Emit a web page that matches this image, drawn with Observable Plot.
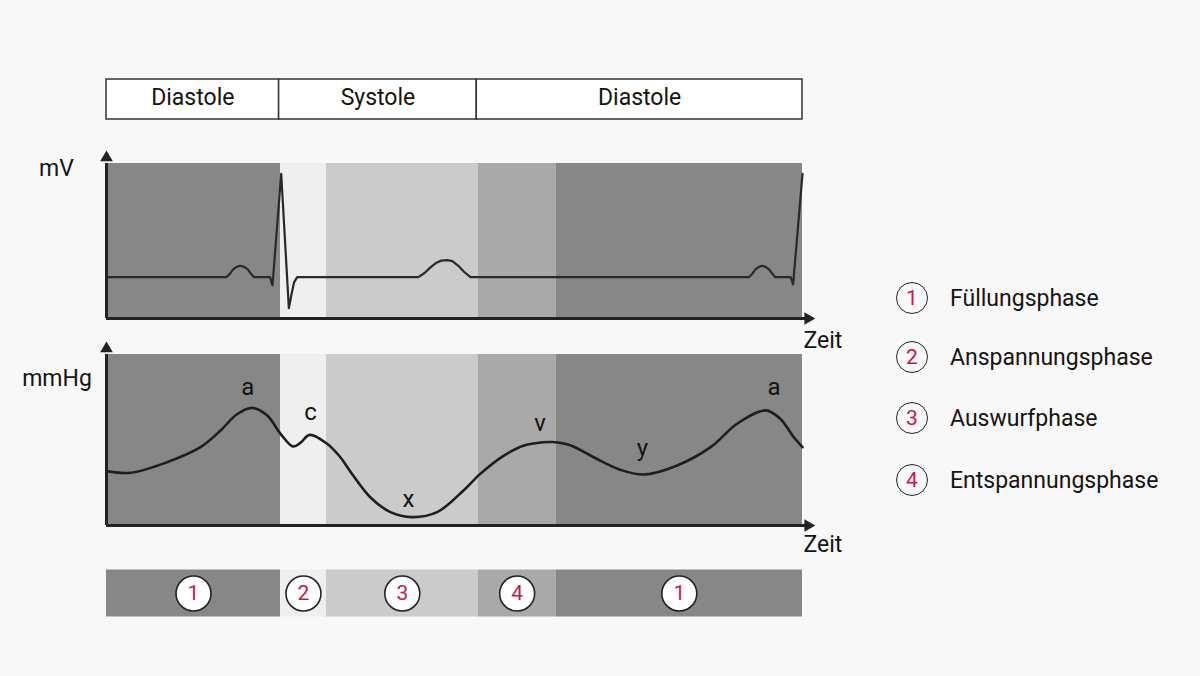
<!DOCTYPE html>
<html><head><meta charset="utf-8">
<script src="https://cdn.jsdelivr.net/npm/d3@7"></script>
<script src="https://cdn.jsdelivr.net/npm/@observablehq/plot@0.6"></script>
<style>
html,body{margin:0;padding:0;background:#f8f8f8;}
#chart{position:relative;width:1200px;height:676px;background:#f8f8f8;font-family:Roboto,sans-serif;overflow:hidden;}
#chart svg{position:absolute;left:0;}
.legend-row{position:absolute;left:896px;height:34px;display:flex;align-items:center;}
.legend-row .num{width:30px;height:30px;border:1.6px solid #222;border-radius:50%;display:flex;align-items:center;justify-content:center;color:#c8174a;font-size:21px;line-height:1;}
.legend-row .lab{margin-left:22px;font-size:23px;color:#141414;white-space:nowrap;}
</style>
</head><body>
<div id="chart"></div>
<script>
// ---- data ----
const sectionLabels = ["Diastole", "Systole", "Diastole"];
const sectionStart = [0, 248, 532];
const sectionEnd = [248, 532, 1000];

const phaseNum = [1, 2, 3, 4, 1];
const phaseStart = [0, 250, 316, 534, 646];
const phaseEnd = [250, 316, 534, 646, 1000];
const phaseNames = ["Füllungsphase", "Anspannungsphase", "Auswurfphase", "Entspannungsphase"];
const phaseColors = ["#878787", "#efefef", "#cbcbcb", "#a9a9a9"];

// ECG (time in ms within the window, voltage in mV)
const ecgT = [0,172,177,182,187,192,198,203,208,212,235,238.5,251,262,266,269.5,274,448,457,465.5,474,481,489.5,497,505.5,514,523,923,927.5,932.5,937.5,942,947,952,957,961,983,986.5,1000];
const ecgMv = [0,0,0.03,0.075,0.10,0.11,0.10,0.075,0.03,0,0,-0.08,1.0,-0.30,-0.16,-0.05,0,0,0.04,0.095,0.14,0.16,0.165,0.155,0.11,0.05,0,0,0.03,0.075,0.10,0.11,0.10,0.075,0.03,0,0,-0.07,1.0];

// Venous pressure curve (mmHg)
const pT = [0,34.5,87,135,164,187,209,231,250,268,279,292,317,336,351,379,408,439,475,513,537,571,600,628,641,667,700,738,772,820,868,906,947,968,987.5,1000];
const pV = [3.18,3.08,3.70,4.58,5.56,6.49,6.88,6.43,5.36,4.62,4.85,5.30,4.78,3.99,3.12,1.65,0.78,0.49,0.78,2.05,3.02,4.09,4.68,4.87,4.88,4.68,3.99,3.26,2.98,3.51,4.58,5.95,6.73,6.24,5.16,4.58];

const waveLabels = ["a", "c", "x", "v", "y", "a"];
const waveT = [203, 293, 434, 623, 770, 959];
const waveV = [8.08, 6.61, 1.54, 5.96, 4.50, 8.09];

const ecgDomain = [-0.4, 1.1];
const pDomain = [0, 10];

// ---- tables ----
const sections = sectionLabels.map((label, i) => ({label, start: sectionStart[i], end: sectionEnd[i]}));
const phases = phaseNum.map((phase, i) => ({phase, start: phaseStart[i], end: phaseEnd[i]}));
const ecg = ecgT.map((t, i) => ({t, v: ecgMv[i]}));
const pressure = pT.map((t, i) => ({t, v: pV[i]}));
const waves = waveLabels.map((label, i) => ({label, t: waveT[i], v: waveV[i]}));

const INK = "#222";
const TXT = "#141414";
const RED = "#c8174a";
const chart = document.getElementById("chart");

function panel(top, height, marginTop, marginBottom, yDomain, marks) {
  const opts = {
    width: 1200, height,
    marginLeft: 106, marginRight: 398, marginTop, marginBottom,
    x: {domain: [0, 1000], axis: null},
    color: {domain: [1, 2, 3, 4], range: phaseColors},
    style: {background: "transparent", fontFamily: "Roboto, sans-serif", overflow: "visible"},
    marks
  };
  if (yDomain) opts.y = {domain: yDomain, axis: null};
  const svg = Plot.plot(opts);
  svg.style.top = top + "px";
  chart.appendChild(svg);
}

function axisMarks(yMin) {
  return [
    Plot.ruleX([0], {stroke: INK, strokeWidth: 3}),
    Plot.ruleY([yMin], {stroke: INK, strokeWidth: 3, insetRight: -4}),
    Plot.dot([0], {frameAnchor: "top-left", symbol: "triangle", r: 4.7, fill: INK, stroke: "none", dy: -5.8}),
    Plot.dot([0], {frameAnchor: "bottom-right", symbol: "triangle", r: 4.7, fill: INK, stroke: "none", rotate: 90, dx: 5.5})
  ];
}

// Section header boxes
panel(70, 60, 9, 11, null, [
  Plot.rect(sections, {x1: "start", x2: "end", fill: "white", stroke: "#333", strokeWidth: 1.5}),
  Plot.text(sections, {x: d => (d.start + d.end) / 2, text: "label", fontSize: 23, fill: TXT, dy: -1.5})
]);

// ECG panel
panel(140, 215, 23, 37, ecgDomain, [
  Plot.rect(phases, {x1: "start", x2: "end", fill: "phase"}),
  Plot.line(ecg, {x: "t", y: "v", stroke: "#2a2a2a", strokeWidth: 2.2}),
  ...axisMarks(ecgDomain[0]),
  Plot.text(["mV"], {text: d => d, frameAnchor: "top-left", textAnchor: "middle", lineAnchor: "middle", dx: -50, dy: 5, fontSize: 23, fill: TXT}),
  Plot.text(["Zeit"], {text: d => d, frameAnchor: "bottom-right", textAnchor: "start", lineAnchor: "middle", dx: 1, dy: 22, fontSize: 23, fill: TXT})
]);

// Pressure panel
panel(335, 225, 19, 35, pDomain, [
  Plot.rect(phases, {x1: "start", x2: "end", fill: "phase"}),
  Plot.line(pressure, {x: "t", y: "v", curve: "catmull-rom", stroke: "#1e1e1e", strokeWidth: 2.6}),
  Plot.text(waves, {x: "t", y: "v", text: "label", fontSize: 24, fill: TXT}),
  ...axisMarks(pDomain[0]),
  Plot.text(["mmHg"], {text: d => d, frameAnchor: "top-left", textAnchor: "middle", lineAnchor: "middle", dx: -49.5, dy: 24, fontSize: 23, fill: TXT}),
  Plot.text(["Zeit"], {text: d => d, frameAnchor: "bottom-right", textAnchor: "start", lineAnchor: "middle", dx: 1, dy: 19, fontSize: 23, fill: TXT})
]);

// Phase strip
panel(560, 66, 9.5, 9.5, null, [
  Plot.rect(phases, {x1: "start", x2: "end", fill: "phase"}),
  Plot.dot(phases, {x: d => (d.start + d.end) / 2, r: 17.5, fill: "white", stroke: INK, strokeWidth: 1.6}),
  Plot.text(phases, {x: d => (d.start + d.end) / 2, text: d => String(d.phase), fontSize: 21, fill: RED})
]);

// Legend
const legendTop = [298.3, 357.3, 418.3, 480];
phaseNames.forEach((name, i) => {
  const row = document.createElement("div");
  row.className = "legend-row";
  row.style.top = (legendTop[i] - 17) + "px";
  const num = document.createElement("div");
  num.className = "num";
  num.textContent = String(i + 1);
  const lab = document.createElement("div");
  lab.className = "lab";
  lab.textContent = name;
  row.appendChild(num);
  row.appendChild(lab);
  chart.appendChild(row);
});
</script>
</body></html>
